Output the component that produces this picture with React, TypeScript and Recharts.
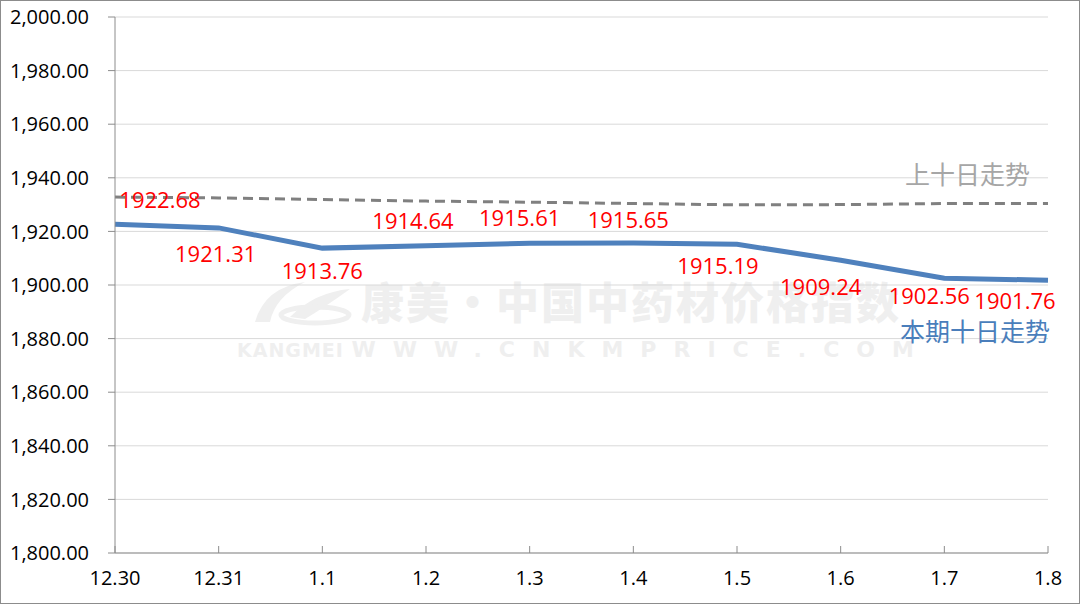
import React from "react";
import { LineChart, Line, XAxis, YAxis, CartesianGrid, LabelList } from "recharts";

const dates = ["12.30", "12.31", "1.1", "1.2", "1.3", "1.4", "1.5", "1.6", "1.7", "1.8"];
const current = [1922.68, 1921.31, 1913.76, 1914.64, 1915.61, 1915.65, 1915.19, 1909.24, 1902.56, 1901.76];
const previous = [1932.8, 1932.5, 1931.9, 1931.3, 1930.9, 1930.4, 1929.9, 1930.0, 1930.4, 1930.4];
const yTicks = [1800, 1820, 1840, 1860, 1880, 1900, 1920, 1940, 1960, 1980, 2000];

// label offsets from each point (dx, dy)
const labelOffsets: [number, number][] = [
  [45, -25], [-3, 25], [0, 22], [-13, -26], [-10, -26],
  [-5, -24], [-19, 21], [-20, 26], [-15, 17], [-33, 20],
];

const data = dates.map((d, i) => ({ date: d, current: current[i], previous: previous[i] }));

const fmt = (v: number) =>
  v.toLocaleString("en-US", { minimumFractionDigits: 2, maximumFractionDigits: 2 });

const font = "'Open Sans', 'Noto Sans', sans-serif";
const cjk = "'Noto Sans CJK SC', sans-serif";

const XTick = (props: any) => {
  const { x, y, payload } = props;
  return (
    <g>
      <line x1={x} x2={x} y1={y} y2={y - 7} stroke="#8c8c8c" strokeWidth={1} />
      <text x={x} y={y + 32} textAnchor="middle" fill="#000" fontSize={20} fontFamily={font}>
        {payload.value}
      </text>
    </g>
  );
};

const CurrentLabel = (props: any) => {
  const { x, y, index, value } = props;
  const [dx, dy] = labelOffsets[index];
  return (
    <g>
      <text x={x + dx} y={y + dy} textAnchor="middle" dominantBaseline="central" fill="#ff0000" fontSize={22} fontFamily={font}>
        {value.toFixed(2)}
      </text>
      {index === dates.length - 1 && (
        <text x={x + 2} y={y + 50} textAnchor="end" dominantBaseline="central" fill="#4a7ebb" fontSize={25} fontFamily={cjk}>
          本期十日走势
        </text>
      )}
    </g>
  );
};

const PreviousLabel = (props: any) => {
  const { x, y, index } = props;
  if (index !== dates.length - 1) return null;
  return (
    <text x={x - 18} y={y - 31} textAnchor="end" dominantBaseline="central" fill="#a6a6a6" fontSize={25} fontFamily={cjk}>
      上十日走势
    </text>
  );
};

export default function App() {
  return (
    <div
      style={{
        position: "fixed",
        left: 0,
        top: 0,
        width: 1080,
        height: 604,
        boxSizing: "border-box",
        border: "1px solid #8c8c8c",
        background: "#fff",
        overflow: "hidden",
      }}
    >
      {/* watermark */}
      <svg style={{ position: "absolute", left: 244, top: 276 }} width={110} height={50}>
        <path d="M10 45 Q 20 10 60 5 Q 30 20 25 45 Z" fill="#efefef" />
        <path d="M45 40 Q 70 15 105 12 Q 80 30 60 42 Z" fill="#efefef" />
        <ellipse cx="70" cy="38" rx="34" ry="8" fill="none" stroke="#efefef" strokeWidth={5} />
      </svg>
      <div
        style={{
          position: "absolute",
          left: 360,
          top: 268,
          fontFamily: cjk,
          fontWeight: 900,
          fontSize: 43,
          lineHeight: "62px",
          color: "#efefef",
          letterSpacing: 2,
          whiteSpace: "nowrap",
        }}
      >
        康美·中国中药材价格指数
      </div>
      <div
        style={{
          position: "absolute",
          left: 236,
          top: 336,
          fontFamily: "'DejaVu Sans', sans-serif",
          fontWeight: 700,
          fontSize: 22,
          color: "#efefef",
          letterSpacing: 17,
          whiteSpace: "nowrap",
        }}
      >
        <span style={{ fontSize: 19, letterSpacing: 1 }}>KANGMEI </span>WWW.CNKMPRICE.COM
      </div>
      <div style={{ position: "absolute", left: -1, top: -1 }}>
        <LineChart width={1080} height={604} data={data} margin={{ top: 17, right: 32, bottom: 0, left: 0 }}>
          <CartesianGrid vertical={false} stroke="#d9d9d9" strokeWidth={1} />
          <XAxis
            dataKey="date"
            tick={<XTick />}
            tickLine={false}
            tickSize={0}
            tickMargin={0}
            height={51}
            stroke="#8c8c8c"
            interval={0}
          />
          <YAxis
            domain={[1800, 2000]}
            ticks={yTicks}
            tickFormatter={fmt}
            width={115}
            tickSize={7}
            tickMargin={19}
            stroke="#8c8c8c"
            tick={{ fill: "#000", fontSize: 20, fontFamily: font }}
            interval={0}
          />
          <Line
            dataKey="previous"
            stroke="#808080"
            strokeWidth={3}
            strokeDasharray="10 6"
            dot={false}
            isAnimationActive={false}
          >
            <LabelList dataKey="previous" content={<PreviousLabel />} />
          </Line>
          <Line
            dataKey="current"
            stroke="#4f81bd"
            strokeWidth={5}
            dot={false}
            isAnimationActive={false}
          >
            <LabelList dataKey="current" content={<CurrentLabel />} />
          </Line>
        </LineChart>
      </div>
    </div>
  );
}
